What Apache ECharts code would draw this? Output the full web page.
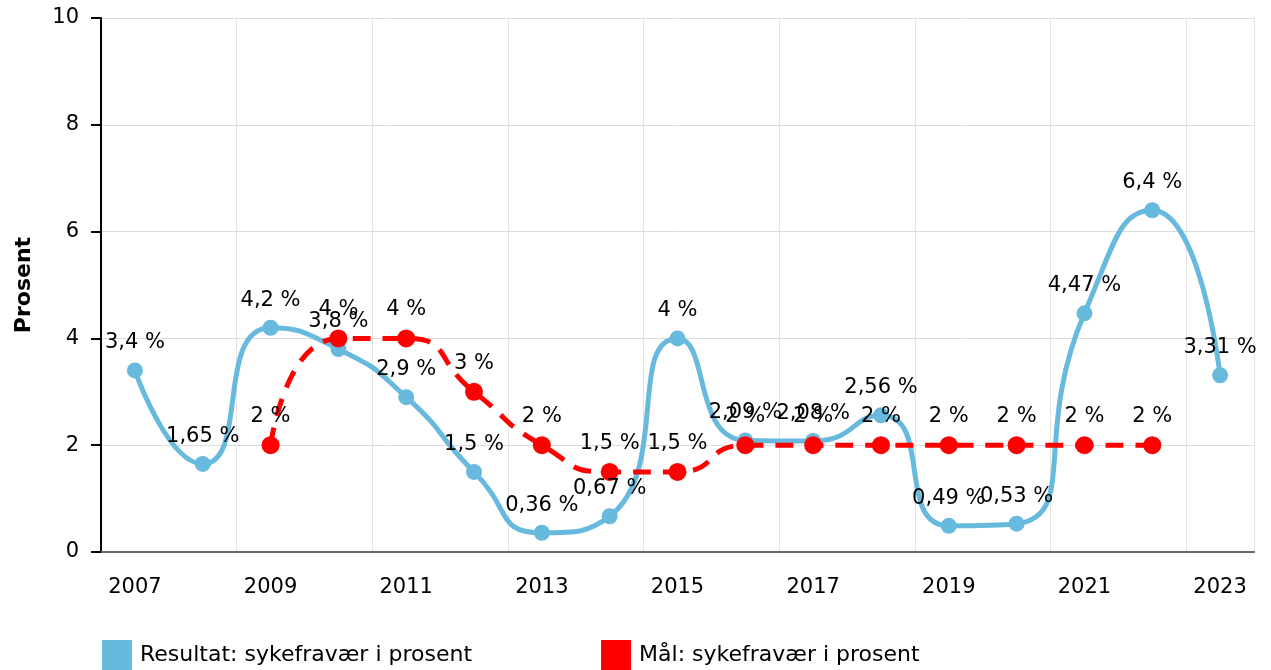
<!DOCTYPE html>
<html>
<head>
<meta charset="utf-8">
<script src="https://cdn.jsdelivr.net/npm/echarts@6/dist/echarts.min.js"></script>
<style>
  html, body { margin: 0; padding: 0; background: #fff; }
  #chart { width: 1271px; height: 670px; }
</style>
</head>
<body>
<div id="chart"></div>
<script>
var years = ['2007', '2008', '2009', '2010', '2011', '2012', '2013', '2014', '2015',
             '2016', '2017', '2018', '2019', '2020', '2021', '2022', '2023'];
// Resultat: sykefravær i prosent
var resultat = [3.4, 1.65, 4.2, 3.8, 2.9, 1.5, 0.36, 0.67, 4, 2.09, 2.08, 2.56, 0.49, 0.53, 4.47, 6.4, 3.31];
// Mål: sykefravær i prosent
var maal = [null, null, 2, 4, 4, 3, 2, 1.5, 1.5, 2, 2, 2, 2, 2, 2, 2, null];

var fontName = 'DejaVu Sans';

function pct(p) {
    return String(p.value).replace('.', ',') + ' %';
}

var chart = echarts.init(document.getElementById('chart'));

var option = {
    animation: false,
    textStyle: { fontFamily: fontName },
    grid: { left: 101, right: 17, top: 18, bottom: 118 },
    legend: {
        left: 102,
        top: 640,
        padding: 0,
        itemWidth: 30,
        itemHeight: 30,
        itemGap: 129,
        icon: 'rect',
        textStyle: { fontFamily: fontName, fontSize: 22, color: '#000', padding: [0, 0, 0, 3] },
        data: ['Resultat: sykefravær i prosent', 'Mål: sykefravær i prosent']
    },
    xAxis: {
        type: 'category',
        data: years,
        boundaryGap: true,
        axisLine: { lineStyle: { color: '#666', width: 2 } },
        axisTick: { alignWithLabel: true, interval: 1, length: 7, lineStyle: { color: '#999' } },
        axisLabel: { interval: 1, color: '#000', fontSize: 21, margin: 25 },
        splitLine: { show: true, interval: 1, lineStyle: { color: '#e3e3e3' } }
    },
    yAxis: {
        type: 'value',
        min: 0,
        max: 10,
        interval: 2,
        name: 'Prosent',
        nameLocation: 'middle',
        nameGap: 66,
        nameTextStyle: { fontWeight: 'bold', fontSize: 22, color: '#000' },
        axisLine: { show: true, lineStyle: { color: '#000', width: 2 } },
        axisTick: { show: true, length: 10, lineStyle: { color: '#000', width: 2 } },
        axisLabel: { color: '#000', fontSize: 21, margin: 22 },
        splitLine: { lineStyle: { color: '#dcdcdc' } }
    },
    series: [
        {
            name: 'Resultat: sykefravær i prosent',
            type: 'line',
            data: resultat,
            smooth: 0.6,
            symbol: 'circle',
            symbolSize: 16,
            itemStyle: { color: '#68b9de' },
            lineStyle: { width: 5, color: '#68b9de' },
            label: { show: true, position: 'top', distance: 9, color: '#000', fontSize: 21, formatter: pct }
        },
        {
            name: 'Mål: sykefravær i prosent',
            type: 'line',
            data: maal,
            smooth: 0.6,
            symbol: 'circle',
            symbolSize: 18,
            itemStyle: { color: '#ff0000' },
            lineStyle: { width: 5, color: '#ff0000', type: [18, 12] },
            label: { show: true, position: 'top', distance: 9, color: '#000', fontSize: 21, formatter: pct }
        }
    ]
};

chart.setOption(option);
</script>
</body>
</html>
